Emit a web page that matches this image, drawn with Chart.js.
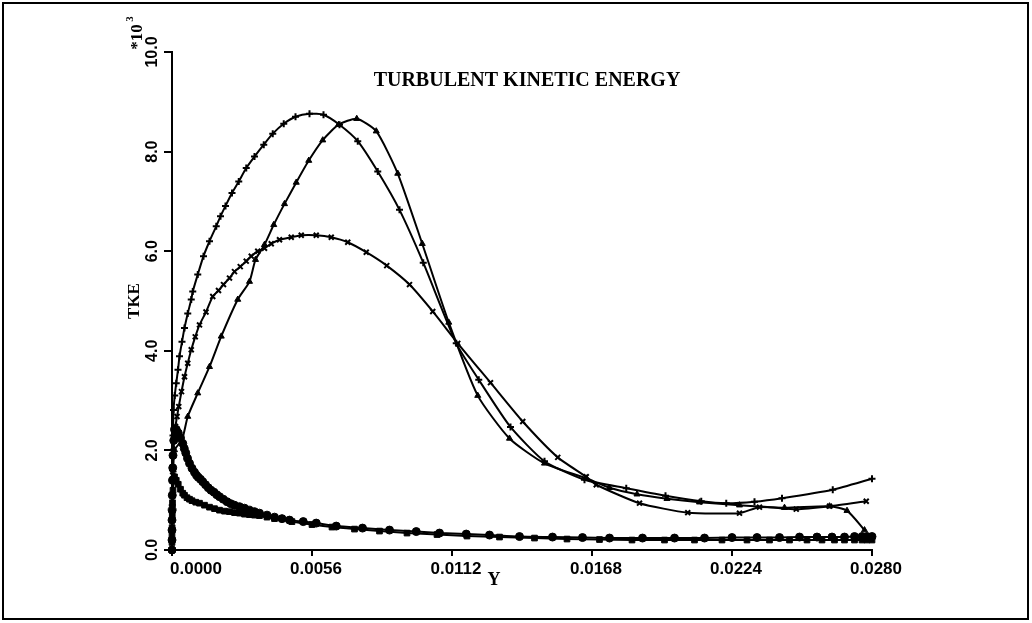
<!DOCTYPE html>
<html>
<head>
<meta charset="utf-8">
<script src="https://cdn.jsdelivr.net/npm/chart.js@4"></script>
<style>
  html, body { margin: 0; padding: 0; background: #fff; }
  #wrap { width: 1032px; height: 623px; }
</style>
</head>
<body>
<div id="wrap"><canvas id="tke" width="1032" height="623"></canvas></div>
<script>
// axis ticks
const xTicks = [0, 0.0056, 0.0112, 0.0168, 0.0224, 0.0280];
const xTickLabels = ['0.0000', '0.0056', '0.0112', '0.0168', '0.0224', '0.0280'];
const yTicks = [0, 2, 4, 6, 8, 10];
const yTickLabels = ['0.0', '2.0', '4.0', '6.0', '8.0', '10.0'];

// series (Y, TKE*10^3)
const plusX = [0, 0.00001, 0.00002, 0.00004, 0.00006, 0.00011, 0.00017, 0.00024, 0.0003, 0.0004, 0.0005, 0.00063, 0.00077, 0.00083, 0.00103, 0.00126, 0.0015, 0.00177, 0.00194, 0.00214, 0.0024, 0.00267, 0.00297, 0.0033, 0.00367, 0.00403, 0.00447, 0.00494, 0.0055, 0.00606, 0.0067, 0.00743, 0.00823, 0.0091, 0.01005, 0.01137, 0.01227, 0.01354, 0.0149, 0.0165, 0.01817, 0.01974, 0.02117, 0.02217, 0.0233, 0.0244, 0.02643, 0.0280];
const plusY = [0, 0.9, 1.6, 2.3, 2.81, 3.1, 3.35, 3.62, 3.89, 4.18, 4.46, 4.75, 5.03, 5.19, 5.53, 5.9, 6.2, 6.5, 6.7, 6.91, 7.17, 7.4, 7.67, 7.9, 8.14, 8.36, 8.56, 8.7, 8.76, 8.74, 8.54, 8.21, 7.6, 6.83, 5.77, 4.15, 3.42, 2.47, 1.78, 1.41, 1.24, 1.09, 0.98, 0.94, 0.97, 1.04, 1.21, 1.43];

const crossX = [0, 0.00001, 0.00003, 0.00006, 0.0001, 0.00014, 0.0002, 0.00027, 0.00038, 0.0005, 0.00063, 0.00077, 0.00093, 0.0011, 0.00136, 0.00163, 0.00186, 0.00206, 0.0023, 0.0025, 0.00273, 0.00297, 0.00317, 0.00343, 0.0037, 0.00397, 0.0043, 0.00477, 0.00517, 0.00577, 0.00637, 0.00703, 0.00777, 0.00859, 0.0095, 0.01043, 0.01143, 0.01274, 0.01403, 0.01543, 0.01657, 0.01697, 0.0187, 0.02063, 0.0227, 0.0235, 0.02497, 0.0263, 0.02777];
const crossY = [0, 0.8, 1.5, 2.0, 2.3, 2.48, 2.68, 2.88, 3.18, 3.48, 3.75, 4.02, 4.28, 4.52, 4.78, 5.09, 5.21, 5.33, 5.46, 5.59, 5.69, 5.8, 5.9, 6.0, 6.06, 6.15, 6.23, 6.28, 6.32, 6.32, 6.28, 6.18, 5.98, 5.71, 5.33, 4.79, 4.15, 3.36, 2.58, 1.86, 1.47, 1.31, 0.94, 0.75, 0.74, 0.86, 0.82, 0.88, 0.98];

const triX = [0, 0.00002, 0.00005, 0.0001, 0.0004, 0.00063, 0.00103, 0.0015, 0.00197, 0.00263, 0.0031, 0.00334, 0.0037, 0.00407, 0.0045, 0.00497, 0.00547, 0.00603, 0.00666, 0.00739, 0.00817, 0.00903, 0.01001, 0.01107, 0.01223, 0.0135, 0.0149, 0.01657, 0.0175, 0.0186, 0.0198, 0.0211, 0.0227, 0.0245, 0.0263, 0.0270, 0.0277];
const triY = [0, 0.9, 1.6, 2.01, 2.21, 2.68, 3.15, 3.68, 4.29, 5.03, 5.39, 5.83, 6.13, 6.53, 6.95, 7.38, 7.82, 8.23, 8.54, 8.66, 8.41, 7.56, 6.15, 4.57, 3.1, 2.24, 1.74, 1.44, 1.25, 1.12, 1.03, 0.96, 0.9, 0.85, 0.88, 0.79, 0.4];

const wallAX = [0, 0, 0, 0, 0.000005, 0.00001, 0.00002, 0.00003, 0.00004, 0.00007, 0.0001, 0.00017, 0.00025, 0.00034, 0.00043, 0.00049, 0.00055, 0.00062, 0.0007, 0.0008, 0.0009, 0.00098, 0.00105, 0.00114, 0.00123, 0.00134, 0.00145, 0.00156, 0.00168, 0.00179, 0.0019, 0.00205, 0.0022, 0.00235, 0.0025, 0.0027, 0.0029, 0.0031, 0.0033, 0.0035, 0.0038, 0.0041, 0.0044, 0.0047, 0.00525, 0.00577, 0.00657, 0.00762, 0.0087, 0.00977, 0.0107, 0.01177, 0.0127, 0.0139, 0.01522, 0.01642, 0.0175, 0.01882, 0.0201, 0.0213, 0.0224, 0.0234, 0.0243, 0.0251, 0.0258, 0.0264, 0.0269, 0.0273, 0.0276, 0.0278, 0.0280];
const wallAY = [0, 0.2, 0.4, 0.6, 0.8, 1.1, 1.4, 1.65, 1.9, 2.2, 2.42, 2.42, 2.35, 2.25, 2.14, 2.04, 1.95, 1.84, 1.74, 1.64, 1.56, 1.5, 1.46, 1.42, 1.37, 1.31, 1.25, 1.2, 1.16, 1.11, 1.07, 1.02, 0.97, 0.93, 0.9, 0.87, 0.84, 0.8, 0.77, 0.74, 0.7, 0.66, 0.63, 0.6, 0.57, 0.54, 0.48, 0.44, 0.4, 0.37, 0.34, 0.32, 0.3, 0.27, 0.26, 0.25, 0.24, 0.24, 0.24, 0.24, 0.25, 0.25, 0.25, 0.26, 0.26, 0.26, 0.26, 0.27, 0.27, 0.27, 0.27];

const wallBX = [0, 0, 0, 0.000005, 0.00001, 0.00002, 0.00003, 0.00004, 0.00007, 0.0001, 0.00017, 0.00025, 0.00034, 0.00043, 0.0005, 0.0006, 0.0007, 0.0008, 0.00095, 0.0011, 0.0013, 0.0015, 0.0017, 0.0019, 0.0021, 0.0023, 0.0025, 0.0027, 0.0029, 0.0031, 0.0033, 0.0035, 0.0038, 0.0041, 0.0048, 0.0056, 0.0064, 0.0073, 0.0083, 0.0094, 0.0106, 0.0118, 0.0131, 0.0145, 0.0158, 0.0171, 0.0184, 0.0197, 0.0209, 0.022, 0.023, 0.0239, 0.0247, 0.0254, 0.026, 0.0265, 0.0269, 0.0273, 0.0276, 0.0278, 0.0280];
const wallBY = [0, 0.15, 0.3, 0.45, 0.7, 0.95, 1.1, 1.2, 1.38, 1.47, 1.4, 1.32, 1.22, 1.14, 1.1, 1.05, 1.02, 0.99, 0.96, 0.94, 0.9, 0.86, 0.83, 0.8, 0.78, 0.77, 0.75, 0.74, 0.72, 0.71, 0.7, 0.69, 0.66, 0.63, 0.57, 0.51, 0.46, 0.42, 0.38, 0.34, 0.31, 0.28, 0.26, 0.24, 0.22, 0.21, 0.2, 0.2, 0.2, 0.2, 0.2, 0.2, 0.2, 0.2, 0.2, 0.2, 0.2, 0.2, 0.2, 0.2, 0.2];

function pts(xs, ys) {
    return xs.map((x, i) => ({x: x, y: ys[i]}));
}

function series(xs, ys, style, r, bw) {
    return {
        data: pts(xs, ys),
        showLine: true,
        borderColor: '#000',
        backgroundColor: '#000',
        borderWidth: 2,
        tension: 0.2,
        pointStyle: style,
        pointRadius: r,
        pointBorderWidth: bw,
        pointBackgroundColor: '#000',
        pointBorderColor: '#000',
        clip: false
    };
}

const labels = {
    id: 'labels',
    afterDraw(chart) {
        let c = chart.ctx;
        let xs = chart.scales.x;
        let ys = chart.scales.y;
        c.save();
        c.fillStyle = '#000';
        c.strokeStyle = '#000';

        // frame
        c.lineWidth = 2;
        c.strokeRect(3, 3, 1025, 616);

        // x tick labels (first one sits right of the axis corner)
        c.font = 'bold 17px "Liberation Sans", Arial, sans-serif';
        c.textAlign = 'center';
        c.textBaseline = 'middle';
        xTicks.forEach((v, i) => {
            let shift = i == 0 ? 24 : 4;
            c.fillText(xTickLabels[i], xs.getPixelForValue(v) + shift, 569);
        });

        // y tick labels, rotated
        c.font = 'bold 16px "Liberation Sans", Arial, sans-serif';
        yTicks.forEach((v, i) => {
            c.save();
            c.translate(153, ys.getPixelForValue(v));
            c.rotate(-Math.PI / 2);
            c.fillText(yTickLabels[i], 0, 0);
            c.restore();
        });

        // exponent
        c.save();
        c.translate(138, 34);
        c.rotate(-Math.PI / 2);
        c.font = 'bold 17px "Liberation Serif", serif';
        c.fillText('*10', -3, 0);
        c.font = 'bold 11px "Liberation Serif", serif';
        c.fillText('3', 15, -8);
        c.restore();

        // axis titles
        c.save();
        c.translate(135, 301);
        c.rotate(-Math.PI / 2);
        c.font = 'bold 17px "Liberation Serif", serif';
        c.fillText('TKE', 0, 0);
        c.restore();

        c.font = 'bold 18px "Liberation Serif", serif';
        c.fillText('Y', 494, 580);

        c.font = 'bold 20px "Liberation Serif", serif';
        c.fillText('TURBULENT KINETIC ENERGY', 527, 81);
        c.restore();
    }
};

let ctx = document.getElementById('tke').getContext('2d');
new Chart(ctx, {
    type: 'scatter',
    data: {
        datasets: [
            series(plusX, plusY, 'cross', 3.5, 2),
            series(crossX, crossY, 'crossRot', 3.5, 2),
            series(triX, triY, 'triangle', 3.5, 1),
            series(wallAX, wallAY, 'circle', 4, 1),
            series(wallBX, wallBY, 'rect', 4, 1)
        ]
    },
    options: {
        responsive: false,
        animation: false,
        layout: { padding: { left: 162, right: 160, top: 52, bottom: 43 } },
        plugins: { legend: { display: false }, tooltip: { enabled: false } },
        scales: {
            x: {
                type: 'linear',
                min: 0,
                max: 0.028,
                afterBuildTicks: s => { s.ticks = xTicks.map(v => ({value: v})); },
                afterFit: s => { s.height = 30; },
                grid: { display: true, drawOnChartArea: false, drawTicks: true, tickLength: 6, color: '#000', lineWidth: 2 },
                border: { display: true, color: '#000', width: 2 },
                ticks: { display: false }
            },
            y: {
                type: 'linear',
                min: 0,
                max: 10,
                afterBuildTicks: s => { s.ticks = yTicks.map(v => ({value: v})); },
                afterFit: s => { s.width = 10; },
                grid: { display: true, drawOnChartArea: false, drawTicks: true, tickLength: 8, color: '#000', lineWidth: 2 },
                border: { display: true, color: '#000', width: 2 },
                ticks: { display: false }
            }
        }
    },
    plugins: [labels]
});
</script>
</body>
</html>
